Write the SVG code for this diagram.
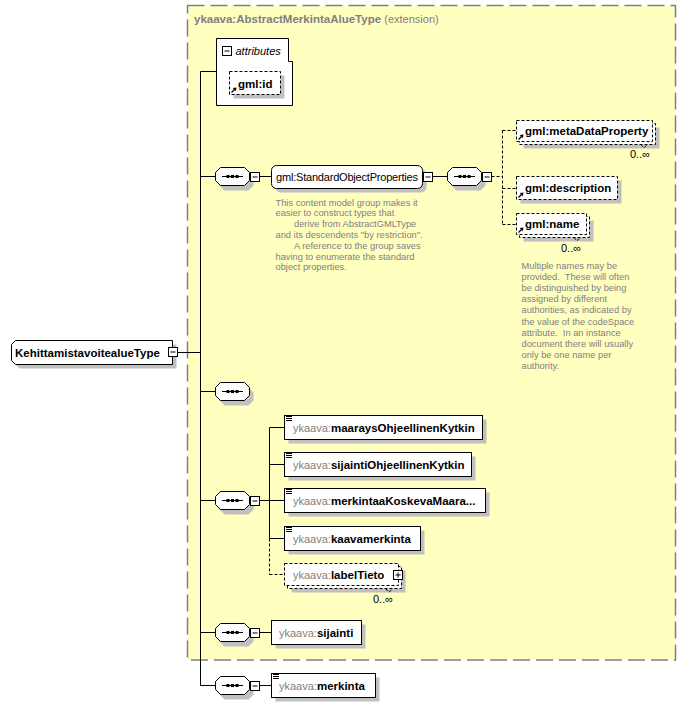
<svg xmlns="http://www.w3.org/2000/svg" width="686" height="707" viewBox="0 0 686 707">
<style>
text { font-family: "Liberation Sans", Arial, sans-serif; }
.n { font-size: 11px; fill: #000; }
.b { font-size: 11.5px; font-weight: bold; fill: #000; }
.pfx { font-size: 11px; font-weight: normal; fill: #808080; }
.desc { font-size: 9.3px; fill: #808080; }
.box { fill: #fff; stroke: #000; stroke-width: 1; }
.opt { fill: #fff; stroke: #000; stroke-width: 1; stroke-dasharray: 3 2; }
.sh { fill: #c0c0c0; stroke: none; }
.ln { stroke: #000; stroke-width: 1; fill: none; }
.dl { stroke: #000; stroke-width: 1; fill: none; stroke-dasharray: 3 2; }
</style>
<defs>
<g id="seq">
<polygon class="sh" transform="translate(4,5)" points="-12,-9 12,-9 17,-4 17,4 12,9 -12,9 -17,4 -17,-4"/>
<polygon class="box" points="-12,-9 12,-9 17,-4 17,4 12,9 -12,9 -17,4 -17,-4"/>
<line class="ln" x1="-10.5" y1="0" x2="10.5" y2="0"/>
<rect x="-6" y="-1.5" width="3" height="3" fill="#000"/>
<rect x="-1.5" y="-1.5" width="3" height="3" fill="#000"/>
<rect x="3" y="-1.5" width="3" height="3" fill="#000"/>
</g>
<g id="minus">
<rect class="box" x="0" y="0" width="9" height="9"/>
<line class="ln" x1="2" y1="4.5" x2="7" y2="4.5"/>
</g>
<g id="plus">
<rect class="box" x="0" y="0" width="9" height="9"/>
<line class="ln" x1="2" y1="4.5" x2="7" y2="4.5"/>
<line class="ln" x1="4.5" y1="2" x2="4.5" y2="7"/>
</g>
<g id="refArrow">
<line x1="0" y1="0" x2="3.5" y2="-3.5" stroke="#000" stroke-width="1.2"/>
<polygon points="5,-5 1.2,-4.4 4.4,-1.2" fill="#000"/>
</g>
<g id="elIcon">
<line class="ln" x1="0" y1="0.5" x2="6" y2="0.5"/>
<line class="ln" x1="0" y1="2.5" x2="6" y2="2.5"/>
<line class="ln" x1="0" y1="4.5" x2="6" y2="4.5"/>
</g>
</defs>

<g id="extension">
<rect x="187.5" y="5.5" width="488" height="654.5" fill="#FFFFC0" stroke="#808080" stroke-width="1.5" stroke-dasharray="17 6"/>
<text x="194" y="23" class="b" fill="#808080" style="fill:#808080">ykaava:AbstractMerkintaAlueType <tspan class="pfx">(extension)</tspan></text>
</g>

<g id="connectors">
<line class="ln" x1="200.5" y1="71.5" x2="200.5" y2="685.5"/>
<line class="ln" x1="177.5" y1="352.5" x2="200.5" y2="352.5"/>
<line class="ln" x1="200.5" y1="71.5" x2="216.5" y2="71.5"/>
<line class="ln" x1="200.5" y1="176.5" x2="215.5" y2="176.5"/>
<line class="ln" x1="259.5" y1="176.5" x2="271.5" y2="176.5"/>
<line class="ln" x1="432.5" y1="176.5" x2="447.5" y2="176.5"/>
<line class="dl" x1="491.5" y1="176.5" x2="502.5" y2="176.5"/>
<line class="dl" x1="502.5" y1="130.5" x2="502.5" y2="224.5"/>
<line class="dl" x1="502.5" y1="130.5" x2="516.5" y2="130.5"/>
<line class="dl" x1="502.5" y1="188.5" x2="516.5" y2="188.5"/>
<line class="dl" x1="502.5" y1="224.5" x2="516.5" y2="224.5"/>
<line class="ln" x1="200.5" y1="391.5" x2="215.5" y2="391.5"/>
<line class="ln" x1="200.5" y1="500.5" x2="215.5" y2="500.5"/>
<line class="ln" x1="259.5" y1="500.5" x2="269.5" y2="500.5"/>
<line class="ln" x1="269.5" y1="427.5" x2="269.5" y2="538.5"/>
<line class="dl" x1="269.5" y1="538.5" x2="269.5" y2="574.5"/>
<line class="ln" x1="269.5" y1="427.5" x2="284.5" y2="427.5"/>
<line class="ln" x1="269.5" y1="464.5" x2="284.5" y2="464.5"/>
<line class="ln" x1="269.5" y1="500.5" x2="284.5" y2="500.5"/>
<line class="ln" x1="269.5" y1="538.5" x2="284.5" y2="538.5"/>
<line class="dl" x1="269.5" y1="574.5" x2="284.5" y2="574.5"/>
<line class="ln" x1="200.5" y1="632.5" x2="215.5" y2="632.5"/>
<line class="ln" x1="259.5" y1="632.5" x2="271.5" y2="632.5"/>
<line class="ln" x1="200.5" y1="685.5" x2="215.5" y2="685.5"/>
<line class="ln" x1="259.5" y1="685.5" x2="271.5" y2="685.5"/>
</g>

<g id="root">
<polygon class="sh" transform="translate(4,4)" points="15.5,340.5 172.5,340.5 172.5,364.5 15.5,364.5 11.5,360.5 11.5,344.5"/>
<polygon class="box" points="15.5,340.5 172.5,340.5 172.5,364.5 15.5,364.5 11.5,360.5 11.5,344.5"/>
<text x="15" y="357" class="b">KehittamistavoitealueType</text>
<use href="#minus" x="168.5" y="347.5"/>
</g>

<g id="attributes">
<polygon class="box" points="216.5,38.5 288.5,38.5 288.5,61.5 292.5,61.5 292.5,105.5 216.5,105.5"/>
<use href="#minus" x="222.5" y="46.5"/>
<text x="235.5" y="55" class="n" font-style="italic">attributes</text>
</g>

<g id="gml-id">
<rect class="sh" x="233.5" y="75.5" width="51" height="23"/>
<rect class="opt" x="229.5" y="71.5" width="51" height="23"/>
<text x="238" y="88" class="b">gml:id</text>
<use href="#refArrow" x="231.5" y="92.5"/>
</g>

<g id="seq1">
<use href="#seq" x="232.5" y="176.5"/>
<use href="#minus" x="250.5" y="172.5"/>
</g>

<g id="standardObjectProperties">
<rect class="sh" x="275.5" y="169.5" width="151" height="23" rx="5"/>
<rect class="box" x="271.5" y="165.5" width="151" height="23" rx="5"/>
<text x="276" y="181" class="n" textLength="142">gml:StandardObjectProperties</text>
<use href="#minus" x="423.5" y="172.5"/>
<text class="desc" xml:space="preserve"><tspan x="275.5" y="205.5">This content model group makes it</tspan><tspan x="275.5" y="216.3">easier to construct types that</tspan><tspan x="294" y="227.1">derive from AbstractGMLType</tspan><tspan x="275.5" y="237.9">and its descendents "by restriction".</tspan><tspan x="294" y="248.7">A reference to the group saves</tspan><tspan x="275.5" y="259.5">having to enumerate the standard</tspan><tspan x="275.5" y="270.3">object properties.</tspan></text>
</g>

<g id="seq2">
<use href="#seq" x="464.5" y="176.5"/>
<use href="#minus" x="482.5" y="172.5"/>
</g>

<g id="metaDataProperty">
<rect class="sh" x="523.5" y="127.5" width="136" height="21"/>
<rect class="opt" x="519.5" y="123.5" width="136" height="21"/>
<rect class="opt" x="516.5" y="120.5" width="136" height="21"/>
<text x="525" y="135" class="b">gml:metaDataProperty</text>
<use href="#refArrow" x="518.5" y="139.5"/>
<polyline class="dl" points="641,144.5 644,148 647,144.5"/>
<text x="630" y="158" class="n">0..∞</text>
</g>

<g id="description">
<rect class="sh" x="520.5" y="180.5" width="101" height="23"/>
<rect class="opt" x="516.5" y="176.5" width="101" height="23"/>
<text x="525" y="192" class="b">gml:description</text>
<use href="#refArrow" x="518.5" y="197.5"/>
</g>

<g id="name">
<rect class="sh" x="523.5" y="220.5" width="70" height="21"/>
<rect class="opt" x="519.5" y="216.5" width="70" height="21"/>
<rect class="opt" x="516.5" y="213.5" width="70" height="21"/>
<text x="525" y="228" class="b">gml:name</text>
<use href="#refArrow" x="518.5" y="232.5"/>
<polyline class="dl" points="574,237.5 577,241 580,237.5"/>
<text x="561" y="252" class="n">0..∞</text>
<text class="desc" xml:space="preserve"><tspan x="521.5" y="269">Multiple names may be</tspan><tspan x="521.5" y="280.1">provided.  These will often</tspan><tspan x="521.5" y="291.2">be distinguished by being</tspan><tspan x="521.5" y="302.3">assigned by different</tspan><tspan x="521.5" y="313.4">authorities, as indicated by</tspan><tspan x="521.5" y="324.5">the value of the codeSpace</tspan><tspan x="521.5" y="335.6">attribute.  In an instance</tspan><tspan x="521.5" y="346.7">document there will usually</tspan><tspan x="521.5" y="357.8">only be one name per</tspan><tspan x="521.5" y="368.9">authority.</tspan></text>
</g>

<g id="seq3">
<use href="#seq" x="232.5" y="391.5"/>
</g>

<g id="seq4">
<use href="#seq" x="232.5" y="500.5"/>
<use href="#minus" x="250.5" y="496.5"/>
</g>

<g id="maaraysOhjeellinenKytkin">
<rect class="sh" x="288.5" y="419.5" width="198" height="24"/>
<rect class="box" x="284.5" y="415.5" width="198" height="24"/>
<use href="#elIcon" x="286" y="416"/>
<text x="293" y="431.5" class="b"><tspan class="pfx">ykaava:</tspan>maaraysOhjeellinenKytkin</text>
</g>

<g id="sijaintiOhjeellinenKytkin">
<rect class="sh" x="288.5" y="456.5" width="187" height="24"/>
<rect class="box" x="284.5" y="452.5" width="187" height="24"/>
<use href="#elIcon" x="286" y="453"/>
<text x="293" y="468.5" class="b"><tspan class="pfx">ykaava:</tspan>sijaintiOhjeellinenKytkin</text>
</g>

<g id="merkintaaKoskevaMaara">
<rect class="sh" x="288.5" y="492.5" width="201" height="24"/>
<rect class="box" x="284.5" y="488.5" width="201" height="24"/>
<use href="#elIcon" x="286" y="489"/>
<text x="293" y="504.5" class="b"><tspan class="pfx">ykaava:</tspan>merkintaaKoskevaMaara...</text>
</g>

<g id="kaavamerkinta">
<rect class="sh" x="288.5" y="530.5" width="136" height="24"/>
<rect class="box" x="284.5" y="526.5" width="136" height="24"/>
<use href="#elIcon" x="286" y="527"/>
<text x="293" y="542.5" class="b"><tspan class="pfx">ykaava:</tspan>kaavamerkinta</text>
</g>

<g id="labelTieto">
<rect class="sh" x="291.5" y="570.5" width="114" height="22"/>
<rect class="opt" x="287.5" y="566.5" width="114" height="22"/>
<rect class="opt" x="284.5" y="563.5" width="114" height="22"/>
<text x="293" y="578.5" class="b"><tspan class="pfx">ykaava:</tspan>labelTieto</text>
<use href="#plus" x="393.5" y="570.5"/>
<polyline class="dl" points="386,589 389,592.5 392,589"/>
<text x="373" y="603" class="n">0..∞</text>
</g>

<g id="seq5">
<use href="#seq" x="232.5" y="632.5"/>
<use href="#minus" x="250.5" y="628.5"/>
</g>

<g id="sijainti">
<rect class="sh" x="275.5" y="624.5" width="90" height="24"/>
<rect class="box" x="271.5" y="620.5" width="90" height="24"/>
<text x="279" y="636.5" class="b"><tspan class="pfx">ykaava:</tspan>sijainti</text>
</g>

<g id="seq6">
<use href="#seq" x="232.5" y="685.5"/>
<use href="#minus" x="250.5" y="681.5"/>
</g>

<g id="merkinta">
<rect class="sh" x="275.5" y="677.5" width="104" height="24"/>
<rect class="box" x="271.5" y="673.5" width="104" height="24"/>
<use href="#elIcon" x="273" y="674"/>
<text x="279" y="689.5" class="b"><tspan class="pfx">ykaava:</tspan>merkinta</text>
</g>
</svg>
